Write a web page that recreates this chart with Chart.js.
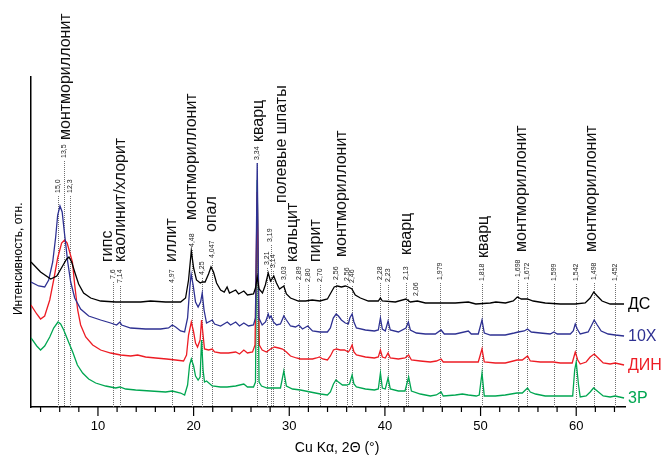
<!DOCTYPE html>
<html>
<head>
<meta charset="utf-8">
<script src="https://cdn.jsdelivr.net/npm/chart.js@4/dist/chart.umd.min.js"></script>
<style>
  html, body { margin: 0; padding: 0; background: #fff; }
  #xrd { display: block; }
</style>
</head>
<body>
<canvas id="xrd" width="668" height="459"></canvas>
<script>
// 2θ (deg) / relative intensity
const seriesDS = [[3.0,145],[4.0,135],[5.06,128],[5.7,131],[6.3,141],[6.73,148],[6.97,150],[7.25,145],[7.57,135],[7.98,123],[8.5,114],[9.24,109],[10.28,106],[11.85,105],[14.46,105],[15.5,106],[17.07,105],[18.64,105],[19.16,109],[19.47,127],[19.76,156],[20.0,139],[20.3,127],[20.7,124],[20.9,125],[21.2,125],[21.56,133],[21.82,140],[22.08,135],[22.4,124],[22.82,117],[23.2,115],[23.5,120],[23.75,114],[24.4,117],[24.7,113],[25.25,116],[25.63,112],[26.26,113],[26.47,119],[26.65,130],[26.84,118],[27.2,114],[27.5,122],[27.8,134],[28.04,126],[28.2,128],[28.38,131],[28.66,124],[28.98,118],[29.43,121],[29.7,113],[30.13,109],[30.96,106],[31.7,106],[32.4,107],[33.2,106],[33.99,108],[34.4,115],[34.7,120],[35.04,121],[35.45,120],[35.86,121],[36.18,120],[36.55,118],[36.9,112],[37.44,109],[38.27,106],[39.31,106],[39.53,109],[39.73,106],[41.09,105],[42.2,108],[42.66,105],[43.39,106],[44.23,104],[45.8,104],[47.36,104],[48.72,105],[49.5,103],[51.02,104],[51.6,105],[52.6,104],[53.42,106],[53.84,110],[54.26,108],[54.89,108],[55.5,106],[56.76,104],[58.33,103],[59.9,103],[60.94,104],[61.46,109],[61.83,115],[62.2,111],[62.7,106],[63.55,103],[65.0,103]];

const series10X = [[3.0,125],[3.8,121],[4.43,120],[4.85,127],[5.27,145],[5.58,170],[5.79,192],[6.03,201],[6.26,195],[6.52,172],[6.84,145],[7.15,125],[7.57,109],[8.19,98],[9.03,91],[10.28,87],[11.33,84],[11.95,82],[12.3,85],[12.48,82],[13.42,79],[14.98,78],[16.55,78],[17.38,79],[17.77,82],[18.12,80],[18.64,76],[19.06,75],[19.37,89],[19.58,117],[19.74,133],[19.95,122],[20.2,105],[20.47,100],[20.73,105],[20.9,114],[21.09,97],[21.35,84],[21.95,87],[22.19,83],[22.82,81],[23.52,85],[23.86,82],[24.4,85],[24.8,81],[25.25,84],[25.74,81],[26.26,82],[26.47,89],[26.65,244],[26.82,89],[27.17,82],[27.52,85],[27.8,93],[27.93,89],[28.09,91],[28.35,85],[28.67,82],[29.08,83],[29.43,91],[29.7,87],[30.13,81],[30.65,80],[31.0,82],[31.38,78],[31.93,81],[32.43,76],[33.2,75],[33.99,75],[34.3,79],[34.6,89],[34.9,93],[35.14,91],[35.45,87],[35.86,84],[36.18,83],[36.33,89],[36.57,93],[36.76,85],[37.02,79],[37.96,77],[38.9,76],[39.31,77],[39.53,89],[39.73,78],[40.04,76],[40.33,86],[40.56,77],[41.41,75],[42.2,79],[42.45,85],[42.66,77],[43.29,74],[44.23,73],[45.27,73],[45.87,77],[46.21,73],[47.37,73],[48.72,76],[49.03,73],[49.76,73],[50.15,87],[50.39,74],[51.02,72],[52.58,72],[53.52,74],[53.94,75],[54.57,76],[54.91,78],[55.3,75],[56.24,74],[57.28,73],[57.67,75],[58.02,73],[59.38,73],[59.69,76],[59.9,83],[60.11,78],[60.42,73],[61.25,75],[61.57,81],[61.88,87],[62.2,82],[62.61,76],[63.34,73],[64.07,72],[65.0,71]];

const seriesDIN = [[3.0,102],[3.6,93],[4.0,88],[4.43,91],[4.96,107],[5.37,127],[5.79,149],[6.2,164],[6.52,167],[6.78,164],[7.04,155],[7.33,145],[7.57,122],[7.88,97],[8.19,82],[8.72,70],[9.45,62],[10.28,57],[11.33,54],[12.37,52],[13.42,51],[14.15,52],[14.98,50],[16.03,49],[17.18,48],[18.12,47],[18.95,46],[19.26,52],[19.47,72],[19.76,85],[20.0,75],[20.2,64],[20.41,60],[20.68,67],[20.83,87],[20.99,72],[21.14,58],[21.56,57],[21.95,58],[22.19,55],[22.82,54],[23.65,54],[24.4,55],[24.8,53],[25.25,57],[25.63,54],[26.16,55],[26.42,62],[26.65,215],[26.87,62],[27.17,57],[27.62,55],[28.04,58],[28.46,60],[28.9,59],[29.3,58],[29.7,55],[30.13,51],[30.75,49],[31.17,48],[31.8,48],[32.43,48],[32.85,49],[33.16,50],[33.5,48],[33.99,47],[34.3,51],[34.62,57],[34.93,58],[35.35,57],[35.77,57],[36.18,55],[36.38,58],[36.57,62],[36.76,55],[37.02,52],[37.96,50],[38.9,49],[39.31,50],[39.53,57],[39.73,50],[40.04,49],[40.33,54],[40.56,49],[41.41,48],[42.1,49],[42.48,52],[42.77,47],[43.7,46],[44.75,45],[45.38,46],[45.87,48],[46.1,45],[47.37,45],[48.93,45],[49.76,45],[50.15,58],[50.39,45],[51.54,44],[52.58,44],[53.42,46],[53.81,47],[54.36,47],[54.91,51],[55.2,46],[56.24,45],[57.6,45],[58.33,44],[59.58,44],[59.9,55],[60.16,47],[60.42,43],[61.04,45],[61.46,50],[61.88,53],[62.3,49],[62.82,44],[63.55,43],[64.07,44],[65.0,42]];

const series3R = [[3.0,69],[3.6,61],[4.0,57],[4.43,61],[4.96,70],[5.37,79],[5.82,85],[6.1,83],[6.42,77],[6.97,64],[7.36,55],[7.85,42],[8.4,34],[9.03,28],[9.76,24],[10.8,21],[11.85,19],[12.3,20],[12.9,18],[13.94,17],[15.5,16],[17.07,15],[17.77,16],[18.64,14],[19.06,12],[19.37,22],[19.58,42],[19.76,48],[20.0,41],[20.2,31],[20.47,27],[20.68,30],[20.83,67],[20.99,37],[21.14,25],[21.35,26],[21.95,21],[22.82,20],[23.5,20],[24.4,21],[25.25,23],[25.63,20],[26.26,20],[26.47,25],[26.65,227],[26.84,25],[27.1,21],[27.69,19],[28.56,19],[29.08,19],[29.43,36],[29.7,21],[30.34,18],[31.17,17],[32.2,15],[33.26,13],[33.99,12],[34.3,15],[34.62,23],[34.88,27],[35.14,25],[35.56,22],[35.98,22],[36.3,23],[36.57,32],[36.76,23],[37.02,20],[37.96,18],[38.9,17],[39.31,18],[39.53,34],[39.73,19],[40.04,18],[40.33,29],[40.56,18],[41.41,16],[42.1,16],[42.48,30],[42.77,16],[43.7,13],[44.75,11],[45.38,12],[45.87,15],[46.1,11],[47.37,12],[48.1,13],[48.72,12],[49.55,11],[49.86,12],[50.15,34],[50.39,11],[51.54,11],[52.58,12],[53.81,14],[54.36,14],[54.91,19],[55.2,15],[55.75,13],[56.76,11],[58.33,11],[59.63,11],[59.84,37],[60.0,45],[60.24,22],[60.42,10],[61.04,11],[61.46,15],[61.81,19],[62.2,16],[62.82,11],[63.55,10],[64.07,11],[65.0,9]];

const sampleNames = ['ДС', '10X', 'ДИН', '3Р'];

// reflections: 2θ position and d-spacing label (Å)
const peakPos = [5.82, 6.45, 7.08, 11.6, 12.3, 17.77, 19.8, 20.88, 21.94, 26.65, 27.69, 28.04, 28.32, 29.43, 31.0, 31.93, 33.19, 34.86, 36.05, 36.53, 39.53, 40.33, 42.2, 42.4, 45.8, 50.13, 53.87, 54.9, 57.67, 60.0, 61.9, 64.07];
const peakD = ['15,0', '13,5', '12,3', '7,6', '7,14', '4,97', '4,48', '4,25', '4,047', '3,34', '3,21', '3,19', '3,14', '3,03', '2,89', '2,80', '2,70', '2,56', '2,56', '2,46', '2,28', '2,23', '2,13', '2,06', '1,979', '1,818', '1,698', '1,672', '1,599', '1,542', '1,498', '1,452'];

// phase names and the 2θ they sit over
const phaseNames = ['монтмориллонит', 'гипс', 'каолинит/хлорит', 'иллит', 'монтмориллонит', 'опал', 'кварц', 'полевые шпаты', 'кальцит', 'пирит', 'монтмориллонит', 'кварц', 'кварц', 'монтмориллонит', 'монтмориллонит'];
const phasePos = [6.63, 11.0, 12.4, 17.7, 19.75, 21.9, 26.8, 29.15, 30.3, 32.75, 35.45, 42.25, 50.3, 54.3, 61.6];

const xTitle = 'Cu Kα, 2Θ (°)';
const yTitle = 'Интенсивность, отн.';

const colors = ['#000000', '#2e3192', '#ed1c24', '#00a651'];
const FONT = "'Liberation Sans', Arial, sans-serif";
Chart.defaults.font.family = FONT;

// pixel y where each rotated label ends (bottom of the text)
const peakLabelBottom = [193, 158, 193, 279, 283, 283, 247, 275, 258, 160, 265, 242, 268, 280, 280, 282, 282, 280, 281, 283, 280, 282, 280, 296, 280, 281, 277, 280, 281, 281, 280, 281];
const phaseLabelBottom = [140, 262, 262, 262, 220, 232, 142, 203, 262, 262, 257, 255, 258, 252, 252];

const overlay = {
    id: 'overlay',
    beforeDatasetsDraw(chart) {
        const { ctx, scales: { x }, chartArea } = chart;
        ctx.save();
        ctx.strokeStyle = '#707070';
        ctx.lineWidth = 1;
        ctx.setLineDash([1, 1]);
        peakPos.forEach((p, i) => {
            const px = Math.round(x.getPixelForValue(p)) + 0.5;
            ctx.beginPath();
            ctx.moveTo(px, peakLabelBottom[i] + 3);
            ctx.lineTo(px, chartArea.bottom);
            ctx.stroke();
        });
        ctx.restore();
    },
    afterDraw(chart) {
        const { ctx, scales: { x, y }, chartArea } = chart;
        ctx.save();

        // x ticks, long at the labelled ones
        ctx.strokeStyle = '#000';
        ctx.lineWidth = 1.2;
        x.ticks.forEach(t => {
            const px = x.getPixelForValue(t.value);
            ctx.beginPath();
            ctx.moveTo(px, chartArea.bottom);
            ctx.lineTo(px, chartArea.bottom + (t.value % 10 === 0 ? 9 : 5));
            ctx.stroke();
        });

        const vtext = (txt, px, bottom, font, color) => {
            ctx.save();
            ctx.translate(px, bottom);
            ctx.rotate(-Math.PI / 2);
            ctx.font = font;
            ctx.fillStyle = color;
            ctx.textAlign = 'left';
            ctx.textBaseline = 'middle';
            ctx.fillText(txt, 0, 0);
            ctx.restore();
        };

        peakD.forEach((d, i) => {
            let px = x.getPixelForValue(peakPos[i]);
            if (d === '2,06') px = x.getPixelForValue(43.3);
            vtext(d, px, peakLabelBottom[i], '7px ' + FONT, '#222');
        });
        phaseNames.forEach((n, i) => {
            vtext(n, x.getPixelForValue(phasePos[i]), phaseLabelBottom[i], '16px ' + FONT, '#111');
        });

        // sample names at the right end of each trace
        ctx.font = '16px ' + FONT;
        ctx.textAlign = 'left';
        ctx.textBaseline = 'middle';
        chart.data.datasets.forEach((ds, i) => {
            const last = ds.data[ds.data.length - 1];
            ctx.fillStyle = colors[i];
            ctx.fillText(sampleNames[i], chartArea.right + 3, y.getPixelForValue(last.y) + 1);
        });

        // axis titles
        ctx.fillStyle = '#000';
        ctx.font = '14px ' + FONT;
        ctx.textAlign = 'center';
        ctx.fillText(xTitle, x.getPixelForValue(35), 448);
        vtext(yTitle, 19, 315, '12px ' + FONT, '#000');

        ctx.restore();
    }
};

const toPoints = arr => arr.map(([a, b]) => ({ x: a, y: b }));

new Chart(document.getElementById('xrd'), {
    type: 'line',
    data: {
        datasets: [seriesDS, series10X, seriesDIN, series3R].map((s, i) => ({
            label: sampleNames[i],
            data: toPoints(s),
            borderColor: colors[i],
            borderWidth: 1.3,
            pointRadius: 0,
            tension: 0,
            fill: false
        }))
    },
    options: {
        responsive: false,
        animation: false,
        parsing: false,
        layout: { padding: { left: 0, right: 43, top: 77, bottom: 0 } },
        plugins: { legend: { display: false }, tooltip: { enabled: false } },
        scales: {
            x: {
                type: 'linear',
                min: 3,
                max: 65.1,
                border: { color: '#000', width: 1.5 },
                grid: { drawOnChartArea: false, drawTicks: true, tickLength: 9, tickColor: 'rgba(0,0,0,0)' },
                ticks: {
                    stepSize: 2,
                    includeBounds: false,
                    autoSkip: false,
                    maxRotation: 0,
                    padding: 3,
                    color: '#000',
                    font: { size: 13 },
                    callback: v => (v % 10 === 0 ? String(v) : '')
                },
                afterFit: s => { s.height = 52; }
            },
            y: {
                min: 0,
                max: 330,
                border: { color: '#000', width: 1.5 },
                grid: { display: false },
                ticks: { display: false },
                afterFit: s => { s.width = 31; }
            }
        }
    },
    plugins: [overlay]
});
</script>
</body>
</html>
